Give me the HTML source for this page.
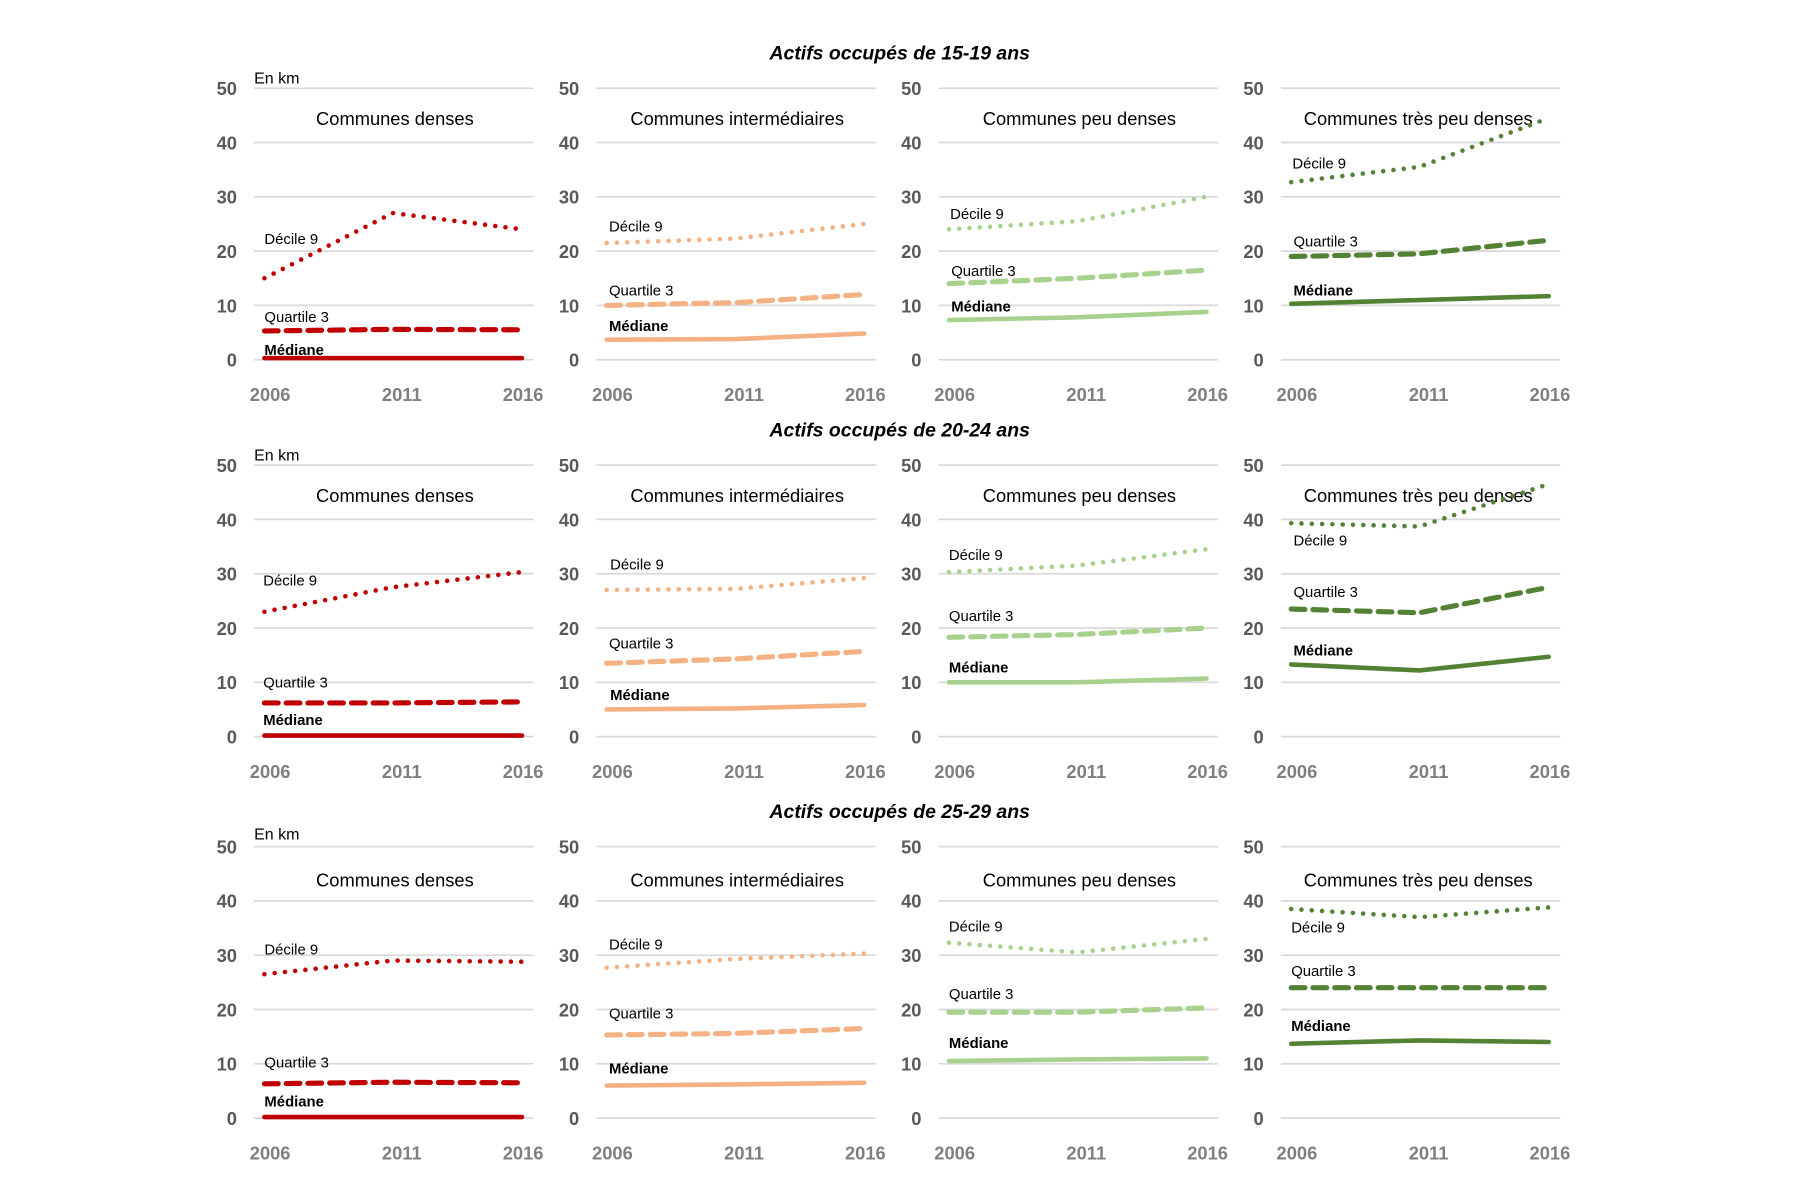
<!DOCTYPE html>
<html><head><meta charset="utf-8"><style>
html,body{margin:0;padding:0;background:#fff;}
svg{display:block;}
text{font-family:"Liberation Sans",sans-serif;}
</style></head><body>
<svg id="s" width="1796" height="1204" viewBox="0 0 1569 1051" preserveAspectRatio="none" xmlns="http://www.w3.org/2000/svg"></svg>
<script>
const s=document.getElementById('s');
let h='';
const cols=['#C00000','#F4B183','#A9D18E','#548235'];
const titles=['Communes denses','Communes intermédiaires','Communes peu denses','Communes très peu denses'];
const rowOff=[0,329,662];
const rowT=['Actifs occupés  de 15-19 ans','Actifs occupés  de 20-24 ans','Actifs occupés  de 25-29 ans'];
const rowTY=[46,375,708];
const data=[
 [[[15,27,24],[5.3,5.6,5.5],[0.3,0.3,0.3]],
  [[21.5,22.3,25],[10,10.5,12],[3.7,3.8,4.8]],
  [[24,25.5,30],[14,15,16.5],[7.3,7.8,8.8]],
  [[32.7,35.5,44.5],[19,19.5,22],[10.3,11,11.7]]],
 [[[23,27.5,30.3],[6.2,6.2,6.4],[0.2,0.2,0.2]],
  [[27,27.2,29.2],[13.5,14.3,15.7],[5,5.2,5.8]],
  [[30.3,31.5,34.5],[18.3,18.8,20],[10,10,10.7]],
  [[39.3,38.7,46.5],[23.5,22.8,27.5],[13.3,12.2,14.7]]],
 [[[26.5,29,28.8],[6.3,6.6,6.5],[0.2,0.2,0.2]],
  [[27.7,29.3,30.3],[15.3,15.6,16.5],[6,6.2,6.5]],
  [[32.3,30.5,33],[19.5,19.5,20.3],[10.5,10.8,11]],
  [[38.5,37,38.8],[24,24,24],[13.7,14.3,14]]]
];
const labs=[
 [[[231,208],[231,276],[231,305]],[[532,197],[532,253],[532,284]],[[830,186],[831,236],[831,267]],[[1129,142],[1130,210],[1130,253]]],
 [[[230,506],[230,595],[230,628]],[[533,492],[532,561],[533,606]],[[829,484],[829,537],[829,582]],[[1130,471],[1130,516],[1130,567]]],
 [[[231,828],[231,927],[231,961]],[[532,824],[532,884],[532,932]],[[829,808],[829,867],[829,910]],[[1128,809],[1128,847],[1128,895]]]
];
for(let r=0;r<3;r++){
 const o=rowOff[r];
 h+=`<text x="786" y="${rowTY[r]+6}" text-anchor="middle" font-size="17" font-style="italic" font-weight="bold" fill="#000">${rowT[r]}</text>`;
 for(let p=0;p<4;p++){
  const dx=299*p;
  const Y=v=>314+o-v*4.74;
  for(let g=0;g<=5;g++){
   const y=Y(g*10);
   h+=`<line x1="${222+dx}" x2="${466+dx}" y1="${y}" y2="${y}" stroke="#d9d9d9" stroke-width="1.5"/>`;
   h+=`<text x="${207+dx}" y="${y+6}" text-anchor="end" font-size="16" font-weight="bold" fill="#595959">${g*10}</text>`;
  }
  const xl=[236,351,457];
  ['2006','2011','2016'].forEach((t,i)=>{h+=`<text x="${xl[i]+dx}" y="${350+o}" text-anchor="middle" font-size="16" font-weight="bold" fill="#7f7f7f">${t}</text>`;});
  if(p==0) h+=`<text x="222" y="${[73,402,733][r]}" font-size="14" fill="#000">En km</text>`;
  h+=`<text x="${345+dx-(p==3?3:0)}" y="${109+o+(r==2?3:0)}" text-anchor="middle" font-size="16" fill="#000">${titles[p]}</text>`;
  const X=[231+dx,343+dx,456+dx];
  const d=data[r][p];
  const styles=['stroke-dasharray="0 9" stroke-linecap="round" stroke-width="4"','stroke-dasharray="12 7" stroke-linecap="round" stroke-width="4.5"','stroke-linecap="round" stroke-width="4"'];
  d.forEach((ser,k)=>{
   const pts=ser.map((v,i)=>`${X[i]},${Y(v).toFixed(1)}`).join(' ');
   h+=`<polyline points="${pts}" fill="none" stroke="${cols[p]}" ${styles[k]}/>`;
  });
  const L=labs[r][p];
  const names=['Décile 9','Quartile 3','Médiane'];
  L.forEach((q,k)=>{h+=`<text x="${q[0]}" y="${q[1]+5}" font-size="13" ${k==2?'font-weight="bold"':''} fill="#000">${names[k]}</text>`;});
 }
}
s.innerHTML=h;
</script>
</body></html>
